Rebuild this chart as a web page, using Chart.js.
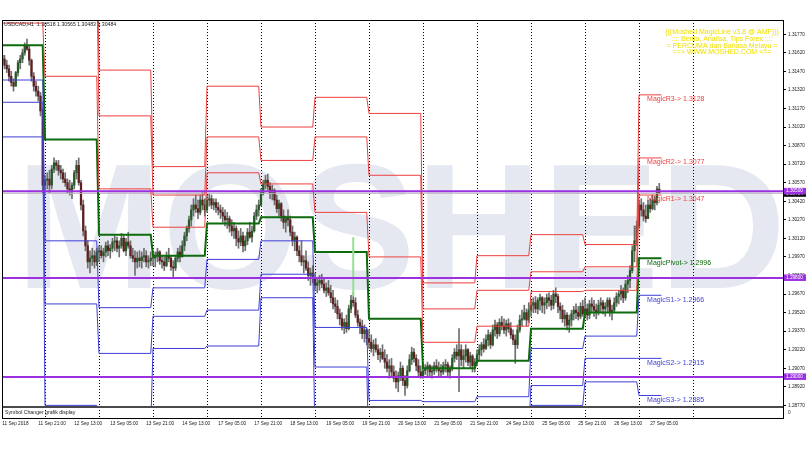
<!DOCTYPE html>
<html>
<head>
<meta charset="utf-8">
<title>USDCAD,H1</title>
<script src="https://cdn.jsdelivr.net/npm/chart.js@4.4.1/dist/chart.umd.min.js"></script>
<style>
  body { margin: 0; background: #fff; }
  canvas { display: block; }
</style>
</head>
<body>
<canvas id="chart" width="810" height="450"></canvas>
<script>
// H1 bars, bar 0 = 11 Sep 2018 05:00, last bar = 27 Sep 09:00
const tickBars = [0, 16, 32, 48, 64, 80, 96, 112, 128, 144, 160, 176, 192, 208, 224, 240, 256, 272, 288];
const tickLabels = ['11 Sep 2018', '11 Sep 21:00', '12 Sep 13:00', '13 Sep 05:00', '13 Sep 21:00', '14 Sep 13:00',
  '17 Sep 05:00', '17 Sep 21:00', '18 Sep 13:00', '19 Sep 05:00', '19 Sep 21:00', '20 Sep 13:00',
  '21 Sep 05:00', '21 Sep 21:00', '24 Sep 13:00', '25 Sep 05:00', '25 Sep 21:00', '26 Sep 13:00', '27 Sep 05:00'];
// first bar of each trading day (11 Sep .. 28 Sep)
const dayStart = [-5, 19, 43, 67, 91, 115, 139, 163, 187, 211, 235, 259, 283, 307];
const lastLineBar = 293;

const priceTicks = [1.2877, 1.2892, 1.2907, 1.2922, 1.2937, 1.2952, 1.2967, 1.2982, 1.2997, 1.3012, 1.3027,
  1.3042, 1.3057, 1.3072, 1.3087, 1.3102, 1.3117, 1.3132, 1.3147, 1.3162, 1.3177];

const opens = [
  1.3160,1.3157,1.3152,1.3149,1.3143,1.3138,1.3135,1.3146,1.3154,1.3157,1.3162,1.3168,1.3165,1.3156,1.3143,1.3135,1.3131,1.3127,1.3115,
  1.3055,1.3059,1.3060,1.3055,1.3068,1.3073,1.3071,1.3067,1.3065,1.3060,1.3057,1.3052,1.3051,1.3055,1.3065,1.3071,1.3057,1.3039,1.3018,1.3006,1.2993,1.2996,1.2998,1.2993,
  1.3001,1.3002,1.2998,1.3001,1.3006,1.3002,1.3004,1.3009,1.3010,1.3004,1.3006,1.3012,1.3002,1.3009,1.3006,1.2998,1.2996,1.2993,1.2996,1.2994,1.2997,1.2998,1.2993,1.2994,
  1.2996,1.2996,1.2998,1.3001,1.2994,1.2993,1.2990,1.2998,1.2996,1.2989,1.2988,1.2996,1.3001,1.2997,1.3006,1.3014,1.3020,1.3027,1.3035,1.3039,1.3036,1.3033,1.3043,1.3039,
  1.3035,1.3043,1.3044,1.3039,1.3041,1.3037,1.3035,1.3033,1.3030,1.3027,1.3028,1.3022,1.3018,1.3020,1.3012,1.3009,1.3014,1.3006,1.3010,1.3017,1.3013,1.3018,1.3030,1.3035,
  1.3039,1.3049,1.3056,1.3059,1.3054,1.3049,1.3051,1.3043,1.3036,1.3040,1.3030,1.3025,1.3028,1.3027,1.3017,1.3010,1.3013,1.3002,1.2998,1.2993,1.2994,1.2988,1.2982,1.2984,
  1.2980,1.2974,1.2976,1.2978,1.2975,1.2970,1.2972,1.2968,1.2964,1.2959,1.2957,1.2951,1.2947,1.2941,1.2944,1.2939,1.2955,1.2962,1.2960,1.2950,1.2944,1.2941,1.2935,1.2938,
  1.2931,1.2928,1.2923,1.2926,1.2922,1.2918,1.2920,1.2915,1.2912,1.2907,1.2909,1.2904,1.2899,1.2896,1.2901,1.2907,1.2897,1.2893,1.2905,1.2914,1.2920,1.2915,1.2909,1.2904,
  1.2901,1.2905,1.2907,1.2909,1.2904,1.2905,1.2909,1.2907,1.2905,1.2904,1.2909,1.2910,1.2904,1.2907,1.2915,1.2920,1.2917,1.2922,1.2914,1.2917,1.2922,1.2912,1.2917,1.2909,
  1.2912,1.2918,1.2922,1.2926,1.2923,1.2930,1.2934,1.2926,1.2938,1.2942,1.2935,1.2944,1.2941,1.2938,1.2943,1.2939,1.2934,1.2930,1.2926,1.2938,1.2946,1.2947,1.2952,1.2946,
  1.2954,1.2958,1.2960,1.2955,1.2962,1.2964,1.2958,1.2960,1.2964,1.2962,1.2958,1.2967,1.2965,1.2957,1.2954,1.2947,1.2950,1.2942,1.2946,1.2951,1.2954,1.2952,1.2949,1.2957,
  1.2951,1.2955,1.2950,1.2959,1.2957,1.2954,1.2952,1.2958,1.2960,1.2955,1.2957,1.2962,1.2952,1.2954,1.2960,1.2965,1.2967,1.2970,1.2964,1.2975,1.2978,1.2986,1.3002,1.3010,
  1.3022,1.3039,1.3035,1.3030,1.3028,1.3039,1.3036,1.3043,1.3041,1.30518
];
const highs = [
  1.3164,1.3160,1.3156,1.3152,1.3147,1.3141,1.3147,1.3156,1.3160,1.3165,1.3170,1.3173,1.3168,1.3157,1.3146,1.3139,1.3135,1.3130,1.3117,
  1.3063,1.3065,1.3067,1.3071,1.3077,1.3075,1.3075,1.3071,1.3068,1.3065,1.3060,1.3059,1.3057,1.3067,1.3075,1.3077,1.3059,1.3043,1.3022,1.3010,1.3002,1.3004,1.3002,1.3004,
  1.3006,1.3006,1.3004,1.3009,1.3010,1.3007,1.3012,1.3014,1.3013,1.3010,1.3016,1.3014,1.3012,1.3017,1.3010,1.3004,1.3002,1.3001,1.3002,1.3001,1.3004,1.3002,1.2998,1.3001,
  1.3002,1.3001,1.3004,1.3002,1.2998,1.2997,1.3001,1.3004,1.2998,1.2994,1.2998,1.3004,1.3006,1.3010,1.3017,1.3022,1.3030,1.3039,1.3044,1.3047,1.3043,1.3047,1.3049,1.3044,
  1.3047,1.3048,1.3047,1.3044,1.3044,1.3041,1.3039,1.3037,1.3035,1.3033,1.3030,1.3027,1.3025,1.3022,1.3018,1.3020,1.3017,1.3014,1.3020,1.3025,1.3022,1.3033,1.3039,1.3043,
  1.3052,1.3059,1.3063,1.3064,1.3057,1.3055,1.3052,1.3047,1.3043,1.3041,1.3035,1.3030,1.3035,1.3030,1.3022,1.3017,1.3014,1.3006,1.3010,1.2998,1.3002,1.2993,1.2988,1.2990,
  1.2984,1.2980,1.2982,1.2983,1.2980,1.2976,1.2978,1.2974,1.2970,1.2964,1.2962,1.2955,1.2952,1.2947,1.2950,1.2958,1.2966,1.2968,1.2964,1.2954,1.2947,1.2946,1.2942,1.2939,
  1.2938,1.2934,1.2930,1.2931,1.2926,1.2923,1.2926,1.2922,1.2918,1.2914,1.2915,1.2909,1.2905,1.2904,1.2912,1.2909,1.2901,1.2909,1.2918,1.2924,1.2923,1.2918,1.2914,1.2909,
  1.2912,1.2910,1.2912,1.2910,1.2909,1.2912,1.2914,1.2912,1.2910,1.2912,1.2914,1.2912,1.2909,1.2918,1.2923,1.2926,1.2939,1.2926,1.2922,1.2926,1.2923,1.2920,1.2918,1.2915,
  1.2922,1.2926,1.2928,1.2931,1.2934,1.2938,1.2936,1.2942,1.2946,1.2944,1.2947,1.2949,1.2947,1.2946,1.2947,1.2944,1.2938,1.2934,1.2942,1.2950,1.2954,1.2958,1.2955,1.2960,
  1.2962,1.2964,1.2965,1.2964,1.2967,1.2965,1.2964,1.2967,1.2968,1.2966,1.2970,1.2972,1.2967,1.2960,1.2958,1.2954,1.2952,1.2950,1.2954,1.2957,1.2959,1.2957,1.2960,1.2962,
  1.2964,1.2959,1.2962,1.2964,1.2962,1.2959,1.2962,1.2964,1.2962,1.2960,1.2964,1.2964,1.2958,1.2964,1.2968,1.2970,1.2974,1.2972,1.2978,1.2982,1.2990,1.3006,1.3022,1.3026,
  1.3043,1.3044,1.3041,1.3039,1.3043,1.3044,1.3047,1.3046,1.3054,1.30565
];
const lows = [
  1.3154,1.3149,1.3146,1.3139,1.3135,1.3131,1.3135,1.3143,1.3149,1.3154,1.3160,1.3164,1.3152,1.3139,1.3131,1.3127,1.3123,1.3111,1.3049,
  1.3047,1.3052,1.3049,1.3052,1.3065,1.3067,1.3063,1.3060,1.3057,1.3054,1.3049,1.3047,1.3044,1.3052,1.3060,1.3055,1.3035,1.3014,1.3002,1.2988,1.2984,1.2990,1.2988,1.2990,
  1.2993,1.2996,1.2993,1.2997,1.2998,1.2996,1.3001,1.3002,1.3001,1.2997,1.3004,1.3001,1.2998,1.3004,1.2996,1.2993,1.2982,1.2988,1.2989,1.2988,1.2993,1.2989,1.2988,1.2990,
  1.2990,1.2989,1.2993,1.2991,1.2988,1.2986,1.2989,1.2993,1.2986,1.2981,1.2986,1.2993,1.2993,1.2997,1.3002,1.3010,1.3017,1.3022,1.3030,1.3033,1.3028,1.3031,1.3035,1.3030,
  1.3033,1.3038,1.3036,1.3035,1.3033,1.3031,1.3028,1.3025,1.3022,1.3020,1.3017,1.3014,1.3012,1.3006,1.3004,1.3006,1.3001,1.3002,1.3007,1.3012,1.3009,1.3017,1.3027,1.3030,
  1.3038,1.3047,1.3052,1.3051,1.3044,1.3043,1.3039,1.3033,1.3030,1.3026,1.3020,1.3017,1.3022,1.3014,1.3006,1.3002,1.2998,1.2993,1.2990,1.2984,1.2986,1.2978,1.2974,1.2976,
  1.2970,1.2968,1.2970,1.2972,1.2968,1.2965,1.2966,1.2960,1.2955,1.2952,1.2947,1.2942,1.2938,1.2935,1.2936,1.2938,1.2952,1.2957,1.2948,1.2941,1.2935,1.2931,1.2928,1.2926,
  1.2923,1.2920,1.2917,1.2920,1.2914,1.2912,1.2914,1.2907,1.2904,1.2899,1.2901,1.2896,1.2891,1.2888,1.2897,1.2893,1.2885,1.2891,1.2904,1.2910,1.2912,1.2905,1.2901,1.2899,
  1.2899,1.2902,1.2901,1.2901,1.2899,1.2902,1.2904,1.2901,1.2901,1.2902,1.2904,1.2901,1.2899,1.2905,1.2912,1.2914,1.2888,1.2909,1.2907,1.2912,1.2909,1.2907,1.2904,1.2904,
  1.2909,1.2914,1.2917,1.2920,1.2922,1.2925,1.2923,1.2925,1.2933,1.2931,1.2933,1.2938,1.2935,1.2933,1.2936,1.2931,1.2926,1.2911,1.2923,1.2936,1.2941,1.2946,1.2941,1.2944,
  1.2949,1.2952,1.2952,1.2951,1.2954,1.2952,1.2951,1.2955,1.2957,1.2954,1.2955,1.2960,1.2952,1.2947,1.2944,1.2941,1.2938,1.2936,1.2941,1.2946,1.2947,1.2946,1.2947,1.2949,
  1.2949,1.2946,1.2947,1.2952,1.2949,1.2947,1.2950,1.2952,1.2951,1.2949,1.2952,1.2949,1.2946,1.2952,1.2957,1.2959,1.2962,1.2960,1.2962,1.2968,1.2972,1.2984,1.2993,1.3006,
  1.3020,1.3030,1.3026,1.3025,1.3028,1.3033,1.3035,1.3035,1.3039,1.30483
];
const closes = [
  1.3157,1.3152,1.3149,1.3143,1.3138,1.3135,1.3146,1.3154,1.3157,1.3162,1.3168,1.3165,1.3156,1.3143,1.3135,1.3131,1.3127,1.3115,1.3055,
  1.3059,1.3060,1.3055,1.3068,1.3073,1.3071,1.3067,1.3065,1.3060,1.3057,1.3052,1.3051,1.3055,1.3065,1.3071,1.3057,1.3039,1.3018,1.3006,1.2993,1.2996,1.2998,1.2993,1.3001,
  1.3002,1.2998,1.3001,1.3006,1.3002,1.3004,1.3009,1.3010,1.3004,1.3006,1.3012,1.3002,1.3009,1.3006,1.2998,1.2996,1.2993,1.2996,1.2994,1.2997,1.2998,1.2993,1.2994,1.2996,
  1.2996,1.2998,1.3001,1.2994,1.2993,1.2990,1.2998,1.2996,1.2989,1.2988,1.2996,1.3001,1.2997,1.3006,1.3014,1.3020,1.3027,1.3035,1.3039,1.3036,1.3033,1.3043,1.3039,1.3035,
  1.3043,1.3044,1.3039,1.3041,1.3037,1.3035,1.3033,1.3030,1.3027,1.3028,1.3022,1.3018,1.3020,1.3012,1.3009,1.3014,1.3006,1.3010,1.3017,1.3013,1.3018,1.3030,1.3035,1.3039,
  1.3049,1.3056,1.3059,1.3054,1.3049,1.3051,1.3043,1.3036,1.3040,1.3030,1.3025,1.3028,1.3027,1.3017,1.3010,1.3013,1.3002,1.2998,1.2993,1.2994,1.2988,1.2982,1.2984,1.2980,
  1.2974,1.2976,1.2978,1.2975,1.2970,1.2972,1.2968,1.2964,1.2959,1.2957,1.2951,1.2947,1.2941,1.2944,1.2939,1.2955,1.2962,1.2960,1.2950,1.2944,1.2941,1.2935,1.2938,1.2931,
  1.2928,1.2923,1.2926,1.2922,1.2918,1.2920,1.2915,1.2912,1.2907,1.2909,1.2904,1.2899,1.2896,1.2901,1.2907,1.2897,1.2893,1.2905,1.2914,1.2920,1.2915,1.2909,1.2904,1.2901,
  1.2905,1.2907,1.2909,1.2904,1.2905,1.2909,1.2907,1.2905,1.2904,1.2909,1.2910,1.2904,1.2907,1.2915,1.2920,1.2917,1.2922,1.2914,1.2917,1.2922,1.2912,1.2917,1.2909,1.2912,
  1.2918,1.2922,1.2926,1.2923,1.2930,1.2934,1.2926,1.2938,1.2942,1.2935,1.2944,1.2941,1.2938,1.2943,1.2939,1.2934,1.2930,1.2926,1.2938,1.2946,1.2947,1.2952,1.2946,1.2954,
  1.2958,1.2960,1.2955,1.2962,1.2964,1.2958,1.2960,1.2964,1.2962,1.2958,1.2967,1.2965,1.2957,1.2954,1.2947,1.2950,1.2942,1.2946,1.2951,1.2954,1.2952,1.2949,1.2957,1.2951,
  1.2955,1.2950,1.2959,1.2957,1.2954,1.2952,1.2958,1.2960,1.2955,1.2957,1.2962,1.2952,1.2954,1.2960,1.2965,1.2967,1.2970,1.2964,1.2975,1.2978,1.2986,1.3002,1.3010,1.3022,
  1.3039,1.3035,1.3030,1.3028,1.3039,1.3036,1.3043,1.3041,1.3052,1.30484
];

// MagicLine daily pivot levels, 11 Sep .. 27 Sep
const r3    = [1.3232, 1.3276, 1.3148, 1.3070, 1.3135, 1.3102, 1.3126, 1.3113, 1.2976, 1.2998, 1.3015, 1.3007, 1.3128];
const r2    = [1.3214, 1.3225, 1.3111, 1.3047, 1.3094, 1.3075, 1.3094, 1.3063, 1.2955, 1.2970, 1.2985, 1.2989, 1.3077];
const r1    = [1.3186, 1.3143, 1.3052, 1.3021, 1.3065, 1.3056, 1.3033, 1.2997, 1.2928, 1.2941, 1.2969, 1.2970, 1.3047];
const pivot = [1.3168, 1.3092, 1.3015, 1.2998, 1.3024, 1.3029, 1.3001, 1.2947, 1.2907, 1.2913, 1.2939, 1.2952, 1.2996];
const s1    = [1.3140, 1.3010, 1.2956, 1.2972, 1.2995, 1.3010, 1.2940, 1.2881, 1.2880, 1.2884, 1.2923, 1.2933, 1.2966];
const s2    = [1.3122, 1.2959, 1.2919, 1.2949, 1.2954, 1.2983, 1.2908, 1.2831, 1.2859, 1.2856, 1.2893, 1.2915, 1.2915];
const s3    = [1.3094, 1.2877, 1.2860, 1.2923, 1.2925, 1.2964, 1.2847, 1.2765, 1.2832, 1.2827, 1.2877, 1.2896, 1.2885];

const levelLines = [1.30500, 1.29800, 1.29000];
const bidPrice = 1.30484;
const greenMark = { bar: 156, from: 1.3013, to: 1.2965 };

const FONT = "'Liberation Sans', Arial, sans-serif";
const RED = '#ee4040', GREEN = '#0d6a0d', BLUE = '#3e3ed8', PURPLE = '#9b30e0';

function stepLine(levels) {
  const pts = [];
  levels.forEach((v, d) => {
    const end = d === levels.length - 1 ? lastLineBar : dayStart[d + 1] - 1;
    pts.push({ x: dayStart[d], y: v }, { x: end, y: v });
  });
  return pts;
}
const pivotSet = (levels, color, width) => ({
  type: 'line', data: stepLine(levels), borderColor: color, borderWidth: width,
  pointRadius: 0, tension: 0, order: 2
});
const hLine = (v, color, width, order) => ({
  type: 'line', data: [{ x: -0.11, y: v }, { x: 347, y: v }], borderColor: color,
  borderWidth: width, pointRadius: 0, order: order
});

const overlay = {
  id: 'mtOverlay',
  beforeDraw(chart) {
    const { ctx, chartArea: a } = chart;
    ctx.save();
    ctx.fillStyle = '#fff';
    ctx.fillRect(0, 0, chart.width, chart.height);
    ctx.beginPath();
    ctx.rect(a.left, a.top, a.right - a.left, a.bottom - a.top);
    ctx.clip();
    ctx.fillStyle = '#e5e8f0';
    ctx.font = 'bold 178px ' + FONT;
    const w = ctx.measureText('MOSHED').width;
    ctx.translate(16, 288);
    ctx.scale(770 / w, 1);
    ctx.fillText('MOSHED', 0, 0);
    ctx.restore();
  },
  beforeDatasetsDraw(chart) {
    const { ctx } = chart;
    const x = chart.scales.x;
    ctx.save();
    ctx.strokeStyle = '#000';
    ctx.lineWidth = 1;
    ctx.setLineDash([1, 2]);
    dayStart.forEach(b => {
      if (b < 0) return;
      const px = Math.round(x.getPixelForValue(b)) + 0.5;
      ctx.beginPath();
      ctx.moveTo(px, 20);
      ctx.lineTo(px, 418);
      ctx.stroke();
    });
    ctx.restore();
  },
  afterDraw(chart) {
    const { ctx, chartArea: a } = chart;
    const y = chart.scales.y, x = chart.scales.x;
    ctx.save();
    // window frame and indicator sub-window
    ctx.fillStyle = '#4a4a4a';
    ctx.fillRect(a.left, 406, a.right - a.left, 2);
    ctx.strokeStyle = '#000';
    ctx.lineWidth = 1;
    ctx.strokeRect(2.5, 20.5, 781, 398);
    ctx.fillStyle = '#1a1a1a';
    ctx.font = '5.2px ' + FONT;
    ctx.textBaseline = 'middle';
    ctx.fillText('Symbol Changer grafik display', 5, 413);
    ctx.font = '4.7px ' + FONT;
    ctx.fillText('0', 788, 413);
    // symbol header
    ctx.font = '5.2px ' + FONT;
    ctx.fillText('USDCAD,H1  1.30518 1.30565 1.30483 1.30484', 4, 25);
    // info block
    ctx.fillStyle = '#f0e000';
    ctx.font = '7px ' + FONT;
    ctx.textAlign = 'center';
    ['(((Moshed MagicLine v3.8 @ AMF)))', ':::: Berita, Analisa, Tips Forex ::::',
     '= PERCUMA dan Bahasa Melayu =', '==> WWW.MOSHED.COM <=='].forEach((t, k) => {
      ctx.fillText(t, 722, 32 + k * 6.8);
    });
    // today's level labels
    ctx.textAlign = 'left';
    const last = r3.length - 1;
    const lx = x.getPixelForValue(286.6);
    [['MagicR3', r3, RED], ['MagicR2', r2, RED], ['MagicR1', r1, RED], ['MagicPivot', pivot, GREEN],
     ['MagicS1', s1, BLUE], ['MagicS2', s2, BLUE], ['MagicS3', s3, BLUE]].forEach(([name, arr, col]) => {
      ctx.fillStyle = col;
      ctx.fillText(name + '-> ' + arr[last].toFixed(4), lx, y.getPixelForValue(arr[last]) + 4.5);
    });
    // price scale markers
    ctx.font = '4.7px ' + FONT;
    const by = y.getPixelForValue(bidPrice);
    ctx.fillStyle = '#111';
    ctx.fillRect(784, by - 3, 22, 6.5);
    ctx.fillStyle = '#fff';
    ctx.fillText(bidPrice.toFixed(5), 786, by + 0.3);
    levelLines.forEach(v => {
      const py = y.getPixelForValue(v);
      ctx.fillStyle = PURPLE;
      ctx.fillRect(784, py - 3.5, 22, 6.5);
      ctx.fillStyle = '#fff';
      ctx.fillText(v.toFixed(5), 786, py - 0.2);
    });
    ctx.restore();
  }
};

const wickData = highs.map((h, i) => ({ x: i, y: [lows[i], h] }));
const bodyData = opens.map((o, i) => ({ x: i, y: [o, closes[i]] }));
const bodyColors = opens.map((o, i) => (closes[i] >= o ? '#245a24' : '#5e1f1f'));

new Chart(document.getElementById('chart'), {
  type: 'bar',
  data: {
    datasets: [
      hLine(levelLines[0], PURPLE, 2, 0),
      hLine(levelLines[1], PURPLE, 2, 0),
      hLine(levelLines[2], PURPLE, 2, 0),
      pivotSet(r3, RED, 1), pivotSet(r2, RED, 1), pivotSet(r1, RED, 1),
      pivotSet(pivot, GREEN, 2),
      pivotSet(s1, BLUE, 1), pivotSet(s2, BLUE, 1), pivotSet(s3, BLUE, 1),
      hLine(bidPrice, '#b8b8b8', 1, 3),
      { type: 'line', data: [{ x: greenMark.bar, y: greenMark.from }, { x: greenMark.bar, y: greenMark.to }],
        borderColor: '#93e093', borderWidth: 2, pointRadius: 0, order: 1 },
      { data: bodyData, backgroundColor: bodyColors, barThickness: 1.6, minBarLength: 1,
        grouped: false, order: 4 },
      { data: wickData, backgroundColor: '#6f6f6f', barThickness: 1, grouped: false, order: 5 }
    ]
  },
  options: {
    responsive: false,
    animation: false,
    devicePixelRatio: 1,
    layout: { padding: { left: 2, top: 20, right: 0, bottom: 20 } },
    plugins: { legend: { display: false }, tooltip: { enabled: false } },
    scales: {
      x: {
        type: 'linear', min: -0.11, max: 347, offset: false,
        grid: { display: false, drawTicks: false },
        border: { display: false },
        afterBuildTicks: s => { s.ticks = tickBars.map(v => ({ value: v })); },
        afterFit: s => { s.height = 24; s.paddingLeft = 0; s.paddingRight = 0; },
        ticks: {
          autoSkip: false, maxRotation: 0, align: 'start', padding: 15, color: '#1a1a1a',
          font: { family: FONT, size: 4.7 },
          callback: v => tickLabels[tickBars.indexOf(v)]
        }
      },
      y: {
        position: 'right', min: 1.28765, max: 1.31885,
        grid: { drawOnChartArea: false, drawTicks: true, tickLength: 3, color: '#000' },
        border: { display: true, color: '#000' },
        afterBuildTicks: s => { s.ticks = priceTicks.map(v => ({ value: v })); },
        afterFit: s => { s.width = 27; s.paddingTop = 0; s.paddingBottom = 0; },
        ticks: {
          padding: 2, color: '#1a1a1a', font: { family: FONT, size: 4.7 },
          callback: v => v.toFixed(5)
        }
      }
    }
  },
  plugins: [overlay]
});
</script>
</body>
</html>
